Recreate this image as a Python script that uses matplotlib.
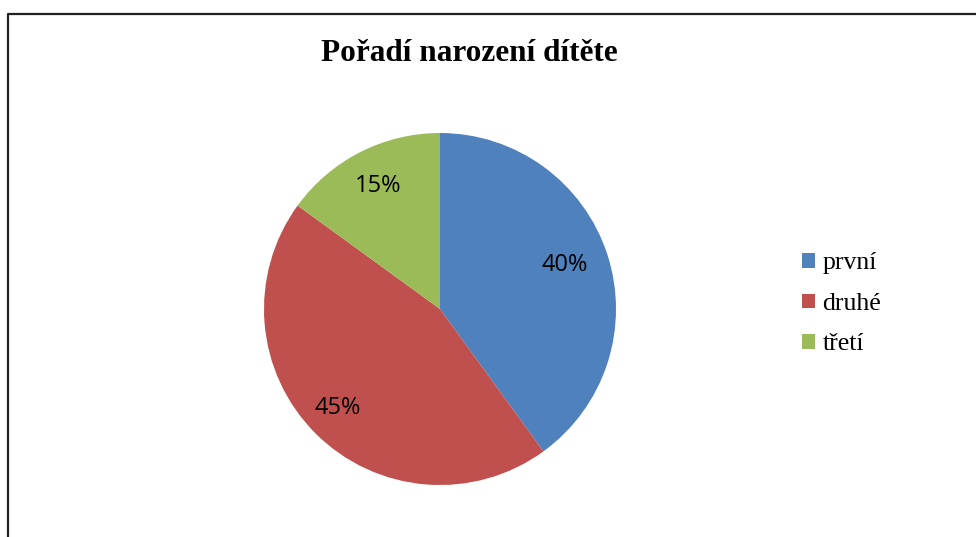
import matplotlib
matplotlib.use('Agg')
import matplotlib.pyplot as plt
from matplotlib.lines import Line2D
from matplotlib.patches import Patch

# data
labels = ['první', 'druhé', 'třetí']
shares = [40, 45, 15]
colors = ['#4F81BD', '#C0504D', '#9BBB59']
title = 'Pořadí narození dítěte'

W, H = 976, 537
fig = plt.figure(figsize=(W / 100, H / 100), dpi=100)

# frame of the chart area (cut off at right and bottom)
fig.add_artist(Line2D([8 / W, 8 / W, 1.0], [0.0, 1 - 14 / H, 1 - 14 / H],
                      transform=fig.transFigure, color='#222222', lw=1.6))

# pie: centre (440, 309) px, radius 176 px
cx, cy, r = 440, 309, 176
ax = fig.add_axes([(cx - r) / W, (H - cy - r) / H, 2 * r / W, 2 * r / H])
wedges, texts, autotexts = ax.pie(shares, colors=colors, startangle=90,
                                  counterclock=False, radius=1.0,
                                  autopct='%d%%', pctdistance=0.75,
                                  textprops=dict(fontsize=17, family='Open Sans',
                                                 color='black'))
ax.set_xlim(-1, 1)
ax.set_ylim(-1, 1)
ax.set_aspect('equal')

# Excel-style best fit label positions
label_pos = [(0.71, 0.25), (-0.58, -0.56), (-0.35, 0.70)]
for t, p in zip(autotexts, label_pos):
    t.set_position(p)

fig.text(469 / W, 1 - 53 / H, title, ha='center', va='center',
         fontsize=22.5, fontweight='bold', family='Liberation Serif')

handles = [Patch(facecolor=c, edgecolor='none') for c in colors]
fig.legend(handles, labels, loc='center left',
           bbox_to_anchor=(802 / W, 1 - 304 / H), frameon=False,
           prop=dict(family='Liberation Serif', size=18.5),
           handlelength=0.5, handleheight=0.5, handletextpad=0.3,
           labelspacing=0.72, borderaxespad=0, borderpad=0)

fig.savefig('out.png', dpi=100)
